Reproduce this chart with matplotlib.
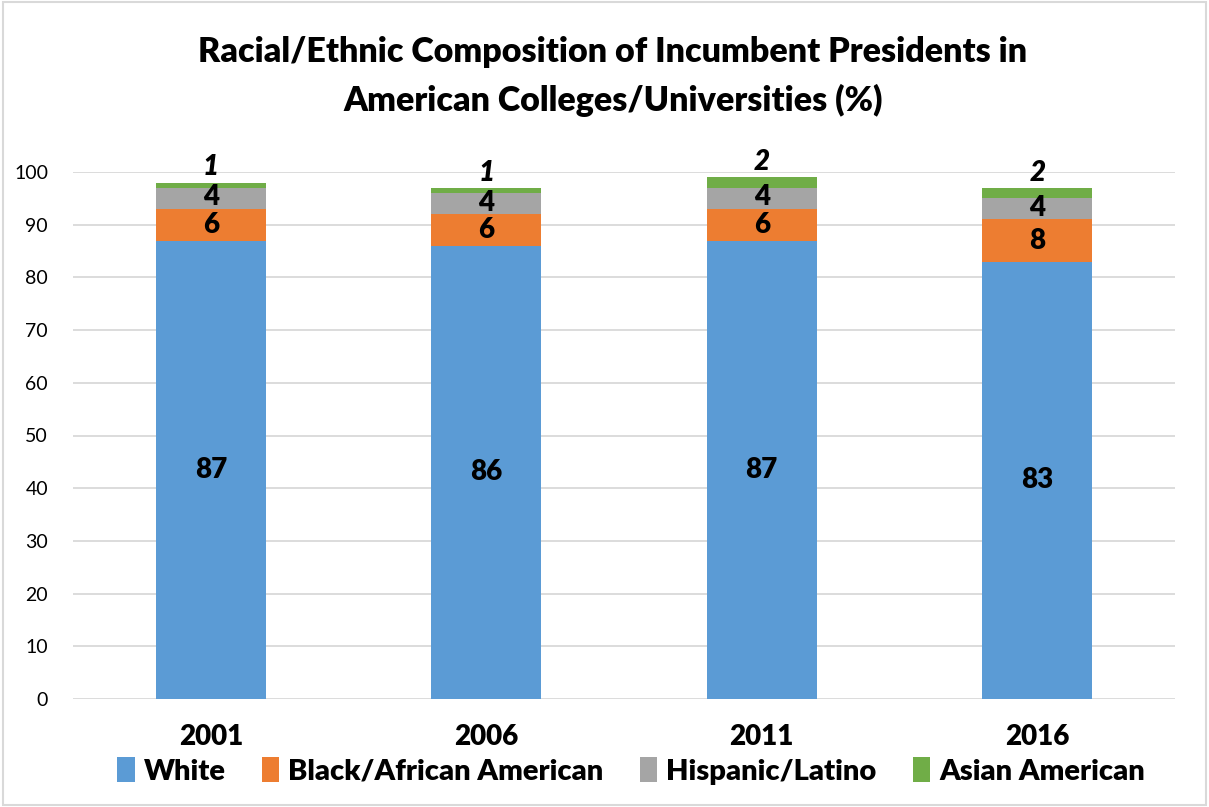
import matplotlib
matplotlib.use("Agg")
import matplotlib.pyplot as plt
import numpy as np
from matplotlib.patches import Rectangle

plt.rcParams["font.family"] = ["Lato", "DejaVu Sans"]

years = ["2001", "2006", "2011", "2016"]
white = [87, 86, 87, 83]
black = [6, 6, 6, 8]
hispanic = [4, 4, 4, 4]
asian = [1, 1, 2, 2]
series = ["White", "Black/African American", "Hispanic/Latino", "Asian American"]
colors = ["#5B9BD5", "#ED7D31", "#A5A5A5", "#70AD47"]

fig = plt.figure(figsize=(12.09, 8.07), dpi=100)
ax = fig.add_axes([73 / 1209, 1 - 699 / 807, (1175 - 73) / 1209, (699 - 172) / 807])

x = np.arange(len(years))
bottom = np.zeros(len(years))
for vals, col, name in zip([white, black, hispanic, asian], colors, series):
    ax.bar(x, vals, 0.4, bottom=bottom, color=col, label=name, zorder=2)
    bottom += np.array(vals)

w = np.array(white); b = np.array(black); h = np.array(hispanic)
for i in range(len(years)):
    ax.text(x[i], w[i] / 2, str(white[i]), ha="center", va="center", fontsize=20, fontweight="heavy")
    ax.text(x[i], w[i] + b[i] / 2, str(black[i]), ha="center", va="center", fontsize=20, fontweight="heavy")
    ax.text(x[i], w[i] + b[i] + h[i] / 2 + 0.2, str(hispanic[i]), ha="center", va="center",
            fontsize=20, fontweight="heavy")
    ax.text(x[i], bottom[i] + 0.4, str(asian[i]), ha="center", va="bottom", fontsize=20,
            fontweight="heavy", style="italic", clip_on=False)

ax.set_xlim(-0.5, 3.5)
ax.set_ylim(0, 100)
ax.set_yticks(range(0, 101, 10))
ax.set_xticks(x)
ax.set_xticklabels(years, fontsize=20, fontweight="heavy")
ax.tick_params(axis="y", labelsize=14, length=0, pad=18)
ax.tick_params(axis="x", length=0, pad=18)
ax.grid(axis="y", color="#D9D9D9", linewidth=1.3, zorder=0)
ax.set_axisbelow(True)
for s in ax.spines.values():
    s.set_visible(False)

fig.text(0.507, 1 - 52 / 807, "Racial/Ethnic Composition of Incumbent Presidents in",
         ha="center", va="center", fontsize=24.5, fontweight="heavy")
fig.text(0.507, 1 - 100 / 807, "American Colleges/Universities (%)",
         ha="center", va="center", fontsize=24.5, fontweight="heavy")

leg = fig.legend(loc="center", bbox_to_anchor=(0.522, 1 - 771 / 807), ncol=4, frameon=False,
                 prop={"size": 21, "weight": "heavy"}, handlelength=0.6, handleheight=0.9,
                 handletextpad=0.3, columnspacing=1.25)

fig.patches.append(Rectangle((3 / 1209, 0.002), 1 - 6 / 1209, 0.995, transform=fig.transFigure,
                             fill=False, edgecolor="#D9D9D9", linewidth=1.5))

fig.savefig("out.png", dpi=100)
